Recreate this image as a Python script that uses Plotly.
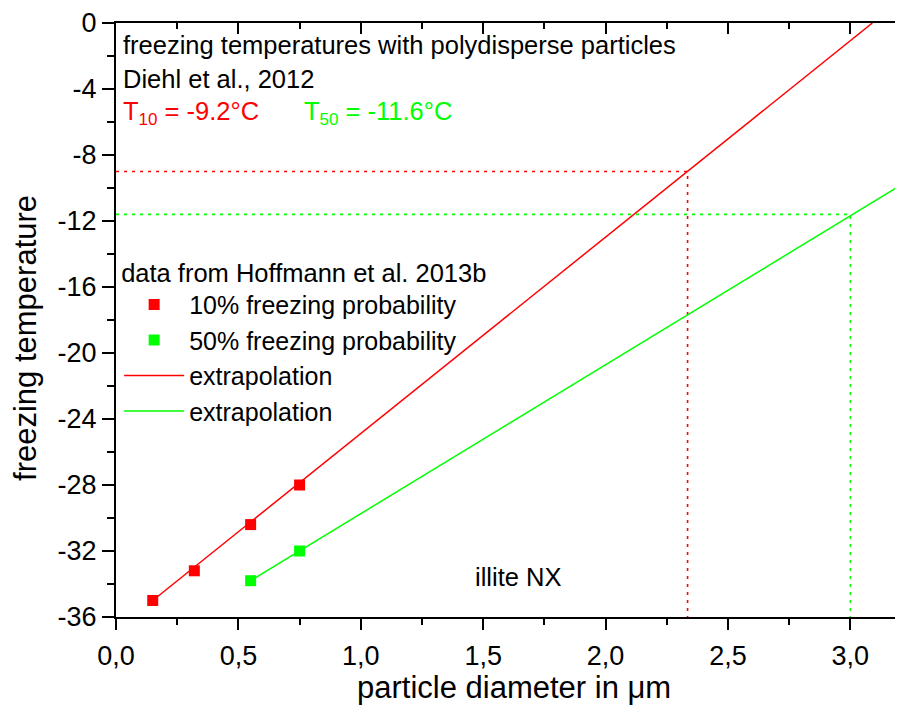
import plotly.graph_objects as go

# ---- data ----
d10 = [0.15, 0.32, 0.55, 0.75]          # particle diameter (µm), 10% freezing probability
t10 = [-35.0, -33.2, -30.4, -28.0]      # freezing temperature (°C)
d50 = [0.55, 0.75]                      # particle diameter (µm), 50% freezing probability
t50 = [-33.8, -32.0]

ext10_x = [0.15, 3.09]                  # extrapolation 10%
ext10_y = [-35.0, 0.0]
ext50_x = [0.55, 3.22]                  # extrapolation 50%
ext50_y = [-33.8, -9.7]

guide10_x = [0.0, 2.335, 2.335]         # dotted guides for the polydisperse values
guide10_y = [-9.0, -9.0, -36.0]
guide50_x = [0.0, 3.0, 3.0]
guide50_y = [-11.6, -11.6, -36.0]

y_tickvals = [0, -4, -8, -12, -16, -20, -24, -28, -32, -36]
y_ticktext = ["0", "-4", "-8", "-12", "-16", "-20", "-24", "-28", "-32", "-36"]

RED = "#ff0000"
GREEN = "#00ff00"
FONT = "Liberation Sans, Arial, sans-serif"
TXT = 25.5

fig = go.Figure()

fig.add_trace(go.Scatter(x=guide10_x, y=guide10_y, mode="lines",
                         line=dict(color=RED, width=1.6, dash="3px,5px"),
                         showlegend=False, hoverinfo="skip"))
fig.add_trace(go.Scatter(x=guide50_x, y=guide50_y, mode="lines",
                         line=dict(color=GREEN, width=1.6, dash="3px,5px"),
                         showlegend=False, hoverinfo="skip"))
fig.add_trace(go.Scatter(x=ext10_x, y=ext10_y, mode="lines", name="extrapolation",
                         line=dict(color=RED, width=1.5), legendrank=3))
fig.add_trace(go.Scatter(x=ext50_x, y=ext50_y, mode="lines", name="extrapolation",
                         line=dict(color=GREEN, width=1.5), legendrank=4))
fig.add_trace(go.Scatter(x=d10, y=t10, mode="markers", name="10% freezing probability",
                         marker=dict(symbol="square", size=11, color=RED), legendrank=1))
fig.add_trace(go.Scatter(x=d50, y=t50, mode="markers", name="50% freezing probability",
                         marker=dict(symbol="square", size=11, color=GREEN), legendrank=2))

# empty trace to carry the mirrored top / right axes
fig.add_trace(go.Scatter(x=[], y=[], xaxis="x2", yaxis="y2", showlegend=False, hoverinfo="skip"))

XR = [0, 3.215]
YR = [-36, 0]

# the page body has an 8px margin, so the figure is sized/offset to compensate
fig.update_layout(
    width=895, height=706,
    margin=dict(l=108, r=0, t=15, b=97),
    paper_bgcolor="white", plot_bgcolor="white",
    separators=",.",
    font=dict(family=FONT, size=TXT, color="black"),
    xaxis=dict(range=XR, showgrid=False, zeroline=False, automargin=False,
               showline=True, linewidth=2, linecolor="black",
               ticks="outside", ticklen=11, tickwidth=2, tickcolor="black",
               tickmode="linear", tick0=0, dtick=0.5, tickformat=".1f",
               tickfont=dict(size=27, family=FONT), ticklabelstandoff=3,
               minor=dict(ticks="outside", ticklen=6, tickwidth=2, tickcolor="black",
                          dtick=0.25, tick0=0, showgrid=False)),
    yaxis=dict(range=YR, showgrid=False, zeroline=False, automargin=False,
               showline=True, linewidth=2, linecolor="black",
               ticks="outside", ticklen=12, tickwidth=2, tickcolor="black",
               tickmode="array", tickvals=y_tickvals, ticktext=y_ticktext,
               tickfont=dict(size=27, family=FONT),
               minor=dict(ticks="outside", ticklen=7, tickwidth=2, tickcolor="black",
                          dtick=2, tick0=0, showgrid=False)),
    xaxis2=dict(range=XR, overlaying="x", side="top", anchor="y2", automargin=False,
                showgrid=False, zeroline=False, showticklabels=False,
                showline=True, linewidth=2, linecolor="black",
                ticks="inside", ticklen=11, tickwidth=2, tickcolor="black",
                tickmode="linear", tick0=0, dtick=0.5,
                minor=dict(ticks="inside", ticklen=6, tickwidth=2, tickcolor="black",
                           dtick=0.25, tick0=0, showgrid=False)),
    yaxis2=dict(range=YR, overlaying="y", side="right", anchor="x2", automargin=False,
                showgrid=False, zeroline=False, showticklabels=False, showline=False,
                ticks="inside", ticklen=4, tickwidth=2, tickcolor="black",
                tickmode="array", tickvals=y_tickvals),
    legend=dict(x=0.004, y=0.62, xanchor="left", yanchor="top",
                bgcolor="rgba(0,0,0,0)", borderwidth=0,
                font=dict(size=25, family=FONT),
                title=dict(text="data from Hoffmann et al. 2013b", font=dict(size=TXT, family=FONT)),
                traceorder="normal", itemsizing="trace", itemwidth=60),
    showlegend=True,
)

def note(text, x, y, color="black", size=TXT, **kw):
    fig.add_annotation(text=text, x=x, y=y, xref="paper", yref="paper",
                       xanchor=kw.pop("xanchor", "left"), yanchor=kw.pop("yanchor", "middle"),
                       showarrow=False, font=dict(size=size, color=color, family=FONT), **kw)

note("freezing temperatures with polydisperse particles", 0.006, 0.963)
note("Diehl et al., 2012", 0.006, 0.906)
note("T<sub><span style='font-size:17px'>10</span></sub> = -9.2°C", 0.006, 0.848, color=RED)
note("T<sub><span style='font-size:17px'>50</span></sub> = -11.6°C", 0.236, 0.848, color=GREEN)
note("illite NX", 0.4536, 0.0673)
note("particle diameter in μm", 0.506, -0.1195, size=31, xanchor="center")
note("freezing temperature", -0.1144, 0.4697, size=31, xanchor="center", textangle=-90)

fig.write_html("out.html")
